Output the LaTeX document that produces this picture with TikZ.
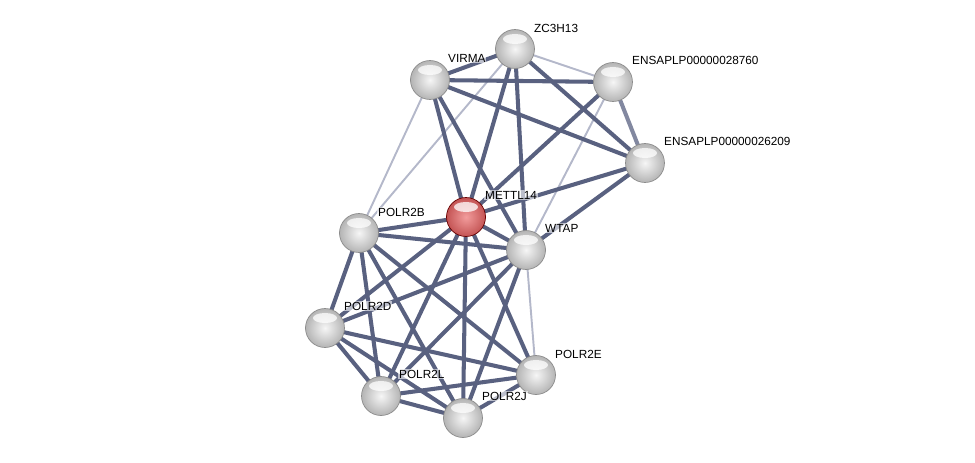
\documentclass[tikz,border=0pt]{standalone}
\usepackage{fontspec}
\setmainfont{Liberation Sans}
\usetikzlibrary{positioning}
\definecolor{edgedark}{HTML}{596180}
\definecolor{edgelight}{HTML}{B4B8CA}
\definecolor{ballin}{HTML}{F6F6F6}
\definecolor{ballout}{HTML}{B4B4B4}
\definecolor{redin}{HTML}{F29C9C}
\definecolor{redout}{HTML}{C45454}
\tikzstyle{protein} = [circle, minimum size=0.78cm, inner sep=0pt, draw=black!45, line width=0.4pt,
  shading=radial, inner color=ballin, outer color=ballout,
  path picture={\fill[white, opacity=0.75] ([yshift=0.2cm]path picture bounding box.center) ellipse (0.24cm and 0.1cm);}]
\tikzstyle{query} = [protein, inner color=redin, outer color=redout, draw=red!40!black]
\tikzstyle{tag} = [anchor=west, inner sep=0.5pt, font=\fontsize{6.7}{7}\selectfont, fill=white, fill opacity=0.6, text opacity=1]
\tikzstyle{strong} = [draw=edgedark, line width=2.3pt]
\tikzstyle{weak} = [draw=edgelight, line width=1.1pt]

\begin{document}
\begin{tikzpicture}[x=0.02cm, y=-0.02cm]
  \useasboundingbox (0,0) rectangle (975,463);

  % We start by placing the proteins
  \coordinate (zc3h13) at (515,49);
  \coordinate (virma) at (430,80);
  \coordinate (ensa28760) at (613,82);
  \coordinate (ensa26209) at (645,163);
  \coordinate (mettl14) at (466,217);
  \coordinate (polr2b) at (359,233);
  \coordinate (wtap) at (526,250);
  \coordinate (polr2d) at (325,328);
  \coordinate (polr2e) at (536,375);
  \coordinate (polr2l) at (381,396);
  \coordinate (polr2j) at (463,418);

  % draw the weak interactions
  \draw [weak] (zc3h13) -- (ensa28760);
  \draw [weak] (zc3h13) -- (polr2b);
  \draw [weak] (virma) -- (polr2b);
  \draw [weak] (ensa28760) -- (wtap);
  \draw [weak] (wtap) -- (polr2e);

  % draw the strong interactions
  \draw [strong] (zc3h13) -- (virma);
  \draw [strong] (zc3h13) -- (ensa26209);
  \draw [strong] (zc3h13) -- (mettl14);
  \draw [strong] (zc3h13) -- (wtap);
  \draw [strong] (virma) -- (ensa28760);
  \draw [strong] (virma) -- (ensa26209);
  \draw [strong] (virma) -- (mettl14);
  \draw [strong] (virma) -- (wtap);
  \draw [strong, draw=edgedark!75] (ensa28760) -- (ensa26209);
  \draw [strong] (ensa28760) -- (mettl14);
  \draw [strong] (ensa26209) -- (mettl14);
  \draw [strong] (ensa26209) -- (wtap);
  \draw [strong] (mettl14) -- (polr2b);
  \draw [strong] (mettl14) -- (wtap);
  \draw [strong] (mettl14) -- (polr2d);
  \draw [strong] (mettl14) -- (polr2l);
  \draw [strong] (mettl14) -- (polr2j);
  \draw [strong] (mettl14) -- (polr2e);
  \draw [strong] (polr2b) -- (wtap);
  \draw [strong] (polr2b) -- (polr2d);
  \draw [strong] (polr2b) -- (polr2l);
  \draw [strong] (polr2b) -- (polr2j);
  \draw [strong] (polr2b) -- (polr2e);
  \draw [strong] (wtap) -- (polr2d);
  \draw [strong] (wtap) -- (polr2l);
  \draw [strong] (wtap) -- (polr2j);
  \draw [strong] (polr2d) -- (polr2l);
  \draw [strong] (polr2d) -- (polr2j);
  \draw [strong] (polr2d) -- (polr2e);
  \draw [strong] (polr2l) -- (polr2j);
  \draw [strong] (polr2l) -- (polr2e);
  \draw [strong] (polr2j) -- (polr2e);

  % the balls on top
  \node (zc3h13ball) [protein] at (zc3h13) {};
  \node (virmaball) [protein] at (virma) {};
  \node (ensa28760ball) [protein] at (ensa28760) {};
  \node (ensa26209ball) [protein] at (ensa26209) {};
  \node (mettl14ball) [query] at (mettl14) {};
  \node (polr2bball) [protein] at (polr2b) {};
  \node (wtapball) [protein] at (wtap) {};
  \node (polr2dball) [protein] at (polr2d) {};
  \node (polr2eball) [protein] at (polr2e) {};
  \node (polr2lball) [protein] at (polr2l) {};
  \node (polr2jball) [protein] at (polr2j) {};

  % and the names
  \node (zc3h13lbl) [tag] at ([shift={(18,-21)}]zc3h13) {ZC3H13};
  \node (virmalbl) [tag] at ([shift={(17,-22)}]virma) {VIRMA};
  \node (ensa28760lbl) [tag] at ([shift={(18,-22)}]ensa28760) {ENSAPLP00000028760};
  \node (ensa26209lbl) [tag] at ([shift={(18,-22)}]ensa26209) {ENSAPLP00000026209};
  \node (mettl14lbl) [tag] at ([shift={(18,-22)}]mettl14) {METTL14};
  \node (polr2blbl) [tag] at ([shift={(18,-21)}]polr2b) {POLR2B};
  \node (wtaplbl) [tag] at ([shift={(18,-22)}]wtap) {WTAP};
  \node (polr2dlbl) [tag] at ([shift={(18,-22)}]polr2d) {POLR2D};
  \node (polr2elbl) [tag] at ([shift={(18,-21)}]polr2e) {POLR2E};
  \node (polr2llbl) [tag] at ([shift={(17,-22)}]polr2l) {POLR2L};
  \node (polr2jlbl) [tag] at ([shift={(18,-22)}]polr2j) {POLR2J};

\end{tikzpicture}
\end{document}
